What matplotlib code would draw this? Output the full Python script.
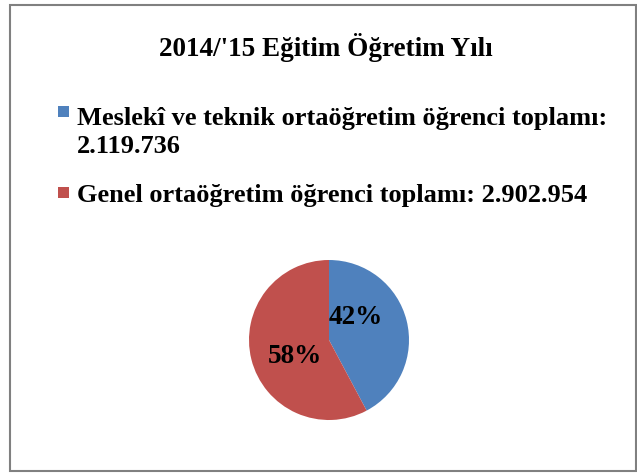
import matplotlib.pyplot as plt
from matplotlib.patches import Rectangle

# data
title = "2014/'15 Eğitim Öğretim Yılı"
categories = ["Meslekî ve teknik ortaöğretim öğrenci toplamı:\n2.119.736",
              "Genel ortaöğretim öğrenci toplamı: 2.902.954"]
values = [2119736, 2902954]
colors = ["#4F81BD", "#C0504D"]

plt.rcParams['font.family'] = ['Liberation Serif', 'DejaVu Serif']
plt.rcParams['font.weight'] = 'bold'

fig = plt.figure(figsize=(6.37, 4.73), dpi=100)
W, H = 637, 473

# outer chart frame
fig.patches.append(Rectangle((10 / W, 1 - 471 / H), 626 / W, 466 / H,
                             transform=fig.transFigure, fill=False,
                             edgecolor="#808080", linewidth=1.5))

fig.text(326 / W, 1 - 48 / H, title, ha="center", va="center",
         fontsize=19.5, fontweight="bold")

# pie, centre (329, 340) px, radius 80 px
cx, cy, r = 329, 340, 80
ax = fig.add_axes([(cx - r) / W, 1 - (cy + r) / H, 2 * r / W, 2 * r / H])
wedges, texts, autotexts = ax.pie(values, colors=colors, startangle=90,
                                  counterclock=False, autopct="%1.0f%%",
                                  pctdistance=0.45,
                                  textprops=dict(fontsize=19.5, fontweight="bold"))
ax.set_xlim(-1, 1)
ax.set_ylim(-1, 1)
ax.set_aspect("equal")
# best-fit style label positions
autotexts[0].set_position((0.33, 0.28))
autotexts[1].set_position((-0.42, -0.21))

# legend drawn by hand so the key square sits on the first text line
key_x = 58
key_bottoms = [117, 198]
text_baselines = [153, 202]   # baseline of the last line of each entry
for label, color, kb, tb in zip(categories, colors, key_bottoms, text_baselines):
    fig.patches.append(Rectangle((key_x / W, 1 - kb / H), 11 / W, 11 / H,
                                 transform=fig.transFigure, facecolor=color,
                                 edgecolor="none"))
    fig.text(77 / W, 1 - tb / H, label, ha="left", va="baseline",
             fontsize=19, fontweight="bold", linespacing=1.3)

fig.savefig("out.png", dpi=100)
